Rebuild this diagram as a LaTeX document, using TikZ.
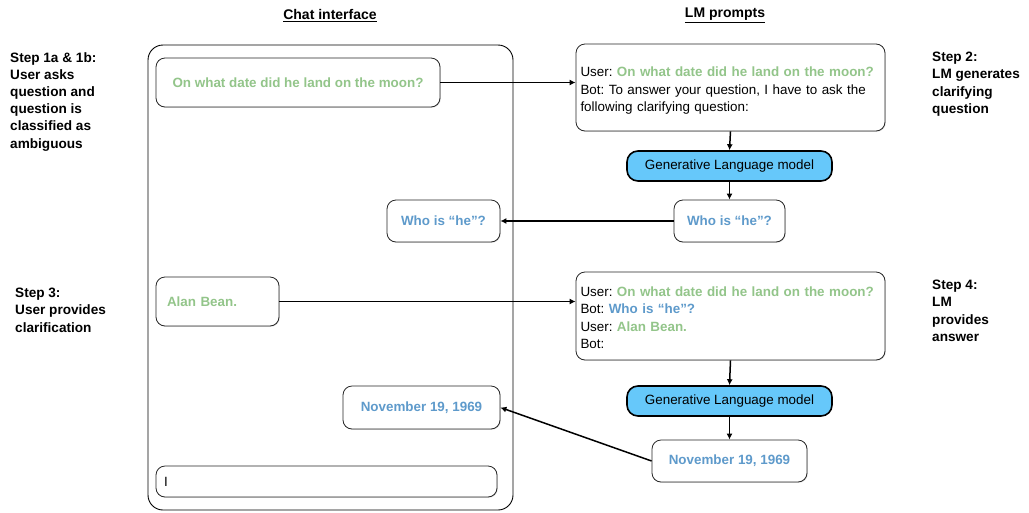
\documentclass[tikz,border=0pt]{standalone}
\usepackage{fontspec}
\setmainfont{Liberation Sans}
\usetikzlibrary{arrows.meta,shadows}
\definecolor{qgreen}{HTML}{93C58A}
\definecolor{qblue}{HTML}{5E9ACB}
\definecolor{lmfill}{HTML}{66C8FA}
\begin{document}
\frenchspacing
\begin{tikzpicture}[x=1pt,y=-1pt,
  txt/.style={font=\fontsize{13.4}{17.2}\selectfont},
  btxt/.style={font=\bfseries\fontsize{13.4}{17.2}\selectfont},
  bubble/.style={draw=black!85, line width=0.8pt, rounded corners=9pt, fill=white,
     drop shadow={shadow xshift=0.8pt,shadow yshift=-0.8pt,opacity=0.25}},
  glm/.style={draw=black, line width=1.6pt, rounded corners=11pt, fill=lmfill},
  stepl/.style={font=\bfseries\fontsize{13.6}{17.2}\selectfont, align=left, anchor=north west, inner sep=0pt},
  ttl/.style={font=\bfseries\fontsize{14}{16}\selectfont},
  conn/.style={-{Latex[length=6pt,width=6pt]}, line width=1.5pt}]
\useasboundingbox (0,0) rectangle (1029,512);
% titles
\node[ttl] (t1) at (330,15.5) {\underline{Chat interface}};
\node[ttl] (t2) at (725,15.5) {\underline{LM prompts}};
% chat frame
\draw[line width=0.9pt, rounded corners=15pt] (148,45) rectangle (513,510);
% chat bubbles
\node[bubble, minimum width=284pt, minimum height=49pt, btxt, text=qgreen] (q1) at (298,82.5) {On what date did he land on the moon?};
\node[bubble, minimum width=113pt, minimum height=42pt, btxt, text=qblue] (c1) at (443.5,221) {Who is “he”?};
\node[bubble, minimum width=123pt, minimum height=49pt, btxt, text=qgreen, align=left, text width=101pt] (a1) at (217.5,301.5) {Alan Bean.};
\node[bubble, minimum width=157pt, minimum height=43pt, btxt, text=qblue] (n1) at (421.5,407.5) {November 19, 1969};
\node[bubble, minimum width=341pt, minimum height=31pt, txt, text width=325pt, align=left] (inp) at (326.5,481.5) {I};
% prompts
\node[bubble, minimum width=309pt, minimum height=87pt, txt, align=left, text width=300pt, inner xsep=4pt] (p1) at (730.5,87.5) {\rule{0pt}{16pt}User: \textcolor{qgreen}{\bfseries On what date did he land on the moon?}\\Bot: To answer your question, I have to ask the\\following clarifying question:};
\node[glm, minimum width=205pt, minimum height=30pt, txt] (g1) at (729.5,166) {Generative Language model};
\node[bubble, minimum width=111pt, minimum height=42pt, btxt, text=qblue] (c2) at (729.5,221) {Who is “he”?};
\node[bubble, minimum width=309pt, minimum height=88pt, txt, align=left, text width=300pt, inner xsep=4pt] (p2) at (730.5,316) {\rule{0pt}{13pt}User: \textcolor{qgreen}{\bfseries On what date did he land on the moon?}\\Bot: \textcolor{qblue}{\bfseries Who is “he”?}\\User: \textcolor{qgreen}{\bfseries Alan Bean.}\\Bot:};
\node[glm, minimum width=205pt, minimum height=30pt, txt] (g2) at (729.5,401) {Generative Language model};
\node[bubble, minimum width=155pt, minimum height=42pt, btxt, text=qblue] (n2) at (729.5,461) {November 19, 1969};
% steps
\node[stepl] (s1) at (10,52) {Step 1a \& 1b:\\User asks\\question and\\question is\\classified as\\ambiguous};
\node[stepl] (s2) at (932,52) {Step 2:\\LM generates\\clarifying\\question};
\node[stepl] (s3) at (15,288) {Step 3:\\User provides\\clarification};
\node[stepl] (s4) at (932,280) {Step 4:\\LM\\provides\\answer};
% connectors
\draw[conn] (q1.east) -- (q1.east -| p1.west);
\draw[conn] (p1.south) -- (g1.north);
\draw[conn] (g1.south) -- (c2.north);
\draw[conn] (c2.west) -- (c1.east);
\draw[conn] (a1.east) -- (a1.east -| p2.west);
\draw[conn] (p2.south) -- (g2.north);
\draw[conn] (g2.south) -- (n2.north);
\draw[conn] (n2.west) -- (n1.east);
\end{tikzpicture}
\end{document}
